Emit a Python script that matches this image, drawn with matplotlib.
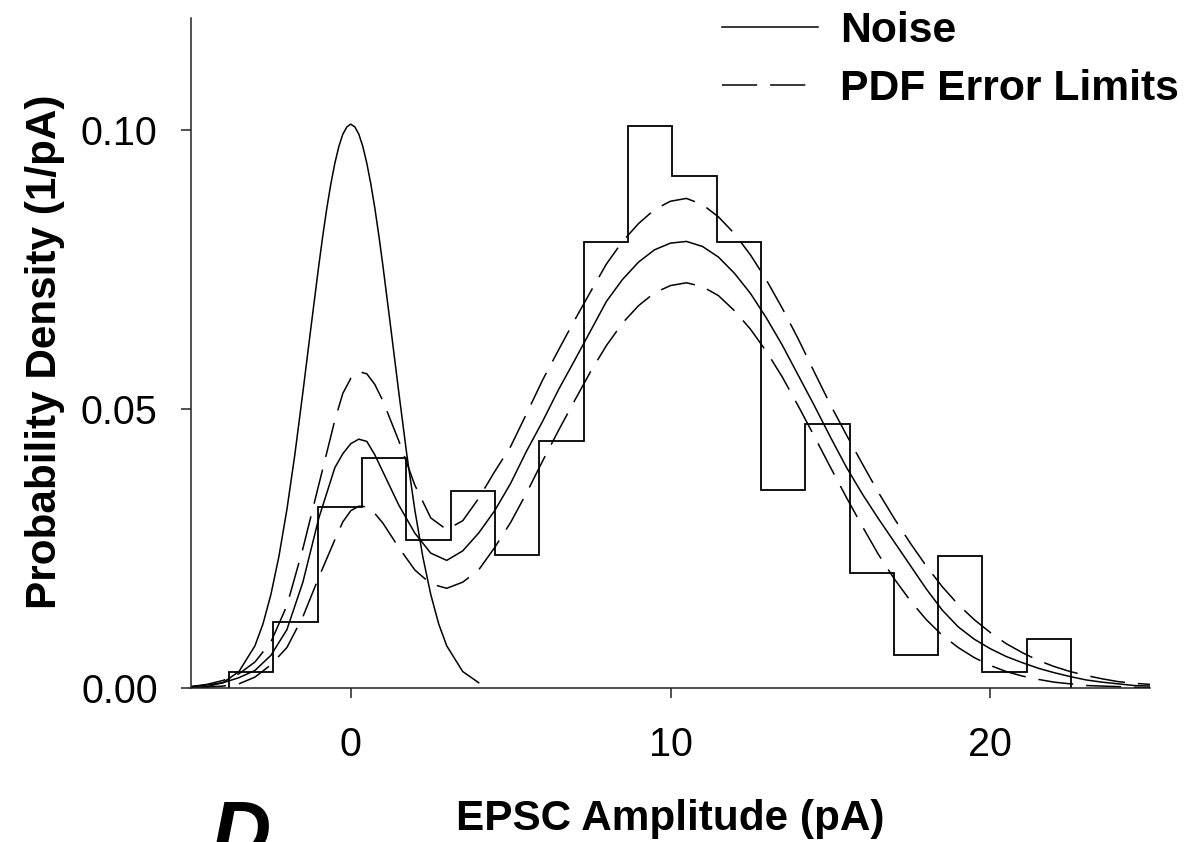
import matplotlib
matplotlib.use('Agg')
import matplotlib.pyplot as plt
from matplotlib.ticker import FormatStrFormatter

plt.rcParams['font.family'] = ['Liberation Sans', 'DejaVu Sans']

# ---------------- data ----------------
bin_edges = [-3.81, -2.43, -1.04, 0.35, 1.74, 3.12, 4.50, 5.89, 7.29, 8.67,
             10.06, 11.44, 12.82, 14.21, 15.60, 16.98, 18.37, 19.76, 21.15, 22.54]
bin_density = [0.0030, 0.0118, 0.0325, 0.0413, 0.0265, 0.0354, 0.0238, 0.0443,
               0.0799, 0.1007, 0.0918, 0.0799, 0.0355, 0.0473, 0.0206, 0.0059,
               0.0237, 0.0030, 0.0089]

noise_x = [-5.0, -4.5, -4.0, -3.5, -3.0, -2.75, -2.5, -2.25, -2.0, -1.75, -1.5,
           -1.25, -1.0, -0.875, -0.75, -0.625, -0.5, -0.375, -0.25, -0.125, 0.0,
           0.125, 0.25, 0.375, 0.5, 0.625, 0.75, 0.875, 1.0, 1.25,
           1.5, 1.75, 2.0, 2.25, 2.5, 2.75, 3.0, 3.5, 4.0]
noise_y = [0.0001, 0.0003, 0.0010, 0.0030, 0.0076, 0.0115, 0.0168, 0.0236,
           0.0320, 0.0419, 0.0530, 0.0645, 0.0758, 0.0811, 0.0860, 0.0903,
           0.0940, 0.0970, 0.0992, 0.1005, 0.1010,
           0.1005, 0.0992, 0.0970, 0.0940, 0.0903, 0.0860, 0.0811, 0.0758, 0.0645,
           0.0530, 0.0419, 0.0320, 0.0236, 0.0168, 0.0115, 0.0076, 0.0030, 0.0010]

fit_x = [-5.0, -4.5, -4.0, -3.5, -3.0, -2.5, -2.0, -1.5, -1.0, -0.5,
         -0.25, 0.0, 0.25, 0.5, 0.75, 1.0,
         1.5, 2.0, 2.5, 3.0, 3.5, 4.0, 4.5, 5.0, 5.5, 6.0,
         6.5, 7.0, 7.5, 8.0, 8.5, 9.0, 9.5, 10.0, 10.5, 11.0,
         11.5, 12.0, 12.5, 13.0, 13.5, 14.0, 14.5, 15.0, 15.5, 16.0,
         16.5, 17.0, 17.5, 18.0, 18.5, 19.0, 19.5, 20.0, 20.5, 21.0,
         21.5, 22.0, 22.5, 23.0, 23.5, 24.0, 24.5, 25.0]
fit_y = [0.0003, 0.0006, 0.0010, 0.0019, 0.0032, 0.0059, 0.0105, 0.0190, 0.0305, 0.0395,
         0.0420, 0.0438, 0.0446, 0.0442, 0.0418, 0.0388,
         0.0328, 0.0278, 0.0242, 0.0229, 0.0246, 0.0278, 0.0318, 0.0367, 0.0425, 0.0478,
         0.0535, 0.0587, 0.0640, 0.0693, 0.0732, 0.0763, 0.0785, 0.0797, 0.0800, 0.0791,
         0.0772, 0.0743, 0.0707, 0.0663, 0.0614, 0.0560, 0.0506, 0.0450, 0.0396, 0.0348,
         0.0304, 0.0262, 0.0220, 0.0178, 0.0140, 0.0110, 0.0088, 0.0071, 0.0057, 0.0046,
         0.0036, 0.0028, 0.0021, 0.0015, 0.0011, 0.0008, 0.0005, 0.0004]
upper_y = [0.0003, 0.0007, 0.0014, 0.0026, 0.0047, 0.0083, 0.0148, 0.0250, 0.0365, 0.0480,
           0.0528, 0.0555, 0.0567, 0.0563, 0.0544, 0.0515,
           0.0443, 0.0364, 0.0305, 0.0284, 0.0300, 0.0340, 0.0388, 0.0433, 0.0492, 0.0552,
           0.0606, 0.0659, 0.0710, 0.0760, 0.0800, 0.0832, 0.0857, 0.0872, 0.0877, 0.0866,
           0.0844, 0.0814, 0.0776, 0.0731, 0.0680, 0.0625, 0.0566, 0.0508, 0.0454, 0.0402,
           0.0351, 0.0304, 0.0260, 0.0219, 0.0182, 0.0150, 0.0123, 0.0100, 0.0080, 0.0064,
           0.0050, 0.0039, 0.0030, 0.0023, 0.0017, 0.0012, 0.0009, 0.0007]
lower_y = [0.0001, 0.0002, 0.0004, 0.0008, 0.0020, 0.0042, 0.0073, 0.0128, 0.0199, 0.0266,
           0.0298, 0.0318, 0.0326, 0.0325, 0.0313, 0.0296,
           0.0252, 0.0212, 0.0187, 0.0179, 0.0190, 0.0212, 0.0252, 0.0297, 0.0350, 0.0407,
           0.0462, 0.0515, 0.0567, 0.0614, 0.0654, 0.0685, 0.0708, 0.0721, 0.0726, 0.0719,
           0.0703, 0.0676, 0.0643, 0.0603, 0.0557, 0.0505, 0.0451, 0.0396, 0.0342, 0.0290,
           0.0240, 0.0196, 0.0157, 0.0123, 0.0095, 0.0073, 0.0055, 0.0041, 0.0030, 0.0022,
           0.0016, 0.0011, 0.0008, 0.0005, 0.0004, 0.0003, 0.0002, 0.0001]

x_ticks = [0, 10, 20]
y_ticks = [0.00, 0.05, 0.10]
x_label = "EPSC Amplitude (pA)"
y_label = "Probability Density (1/pA)"
legend_labels = ["Noise", "PDF Error Limits"]
panel_label = "D"

# ---------------- figure ----------------
W, H = 1184, 842
fig = plt.figure(figsize=(W / 100, H / 100), dpi=100)
ax = fig.add_axes([191 / W, 1 - 688.3 / H, (1150 - 191) / W, (688.3 - 18) / H])

lw = 1.1
dash = (23, 8.5)
ax.stairs(bin_density, bin_edges, baseline=0, color='black', lw=1.3)
l_noise, = ax.plot(noise_x, noise_y, color='black', lw=lw)
ax.plot(fit_x, fit_y, color='black', lw=lw)
l_err, = ax.plot(fit_x, upper_y, color='black', lw=lw, dashes=dash)
ax.plot(fit_x, lower_y, color='black', lw=lw, dashes=dash)

ax.set_xlim(-5, 25)
ax.set_ylim(0, 0.12)
ax.set_xticks(x_ticks)
ax.set_yticks(y_ticks)
ax.yaxis.set_major_formatter(FormatStrFormatter('%.2f'))
for s in ['top', 'right']:
    ax.spines[s].set_visible(False)
for s in ['left', 'bottom']:
    ax.spines[s].set_linewidth(1.1)
    ax.spines[s].set_color('#222222')
ax.tick_params(axis='both', direction='out', length=7, width=1.1,
               color='#222222', labelsize=28.5)
ax.tick_params(axis='x', pad=20)
ax.tick_params(axis='y', pad=17)

fig.text(670.5 / W, 1 - 830 / H, x_label, ha='center', va='baseline',
         fontsize=30.4, fontweight='bold')
fig.text(45 / W, 1 - 352 / H, y_label, ha='center', va='center',
         rotation=90, fontsize=30.4, fontweight='bold')

leg = ax.legend([l_noise, l_err], legend_labels, loc='upper left',
                bbox_to_anchor=(722 / W, 1 - 10.5 / H), bbox_transform=fig.transFigure,
                frameon=False, borderpad=0, borderaxespad=0,
                handlelength=2.25, handletextpad=0.52, labelspacing=0.43,
                prop={'size': 30.7, 'weight': 'bold'})

fig.text(212 / W, 1 - 858 / H, panel_label, ha='left', va='baseline',
         fontsize=59, fontweight='bold', fontstyle='italic')

fig.savefig('out.png', dpi=100)
